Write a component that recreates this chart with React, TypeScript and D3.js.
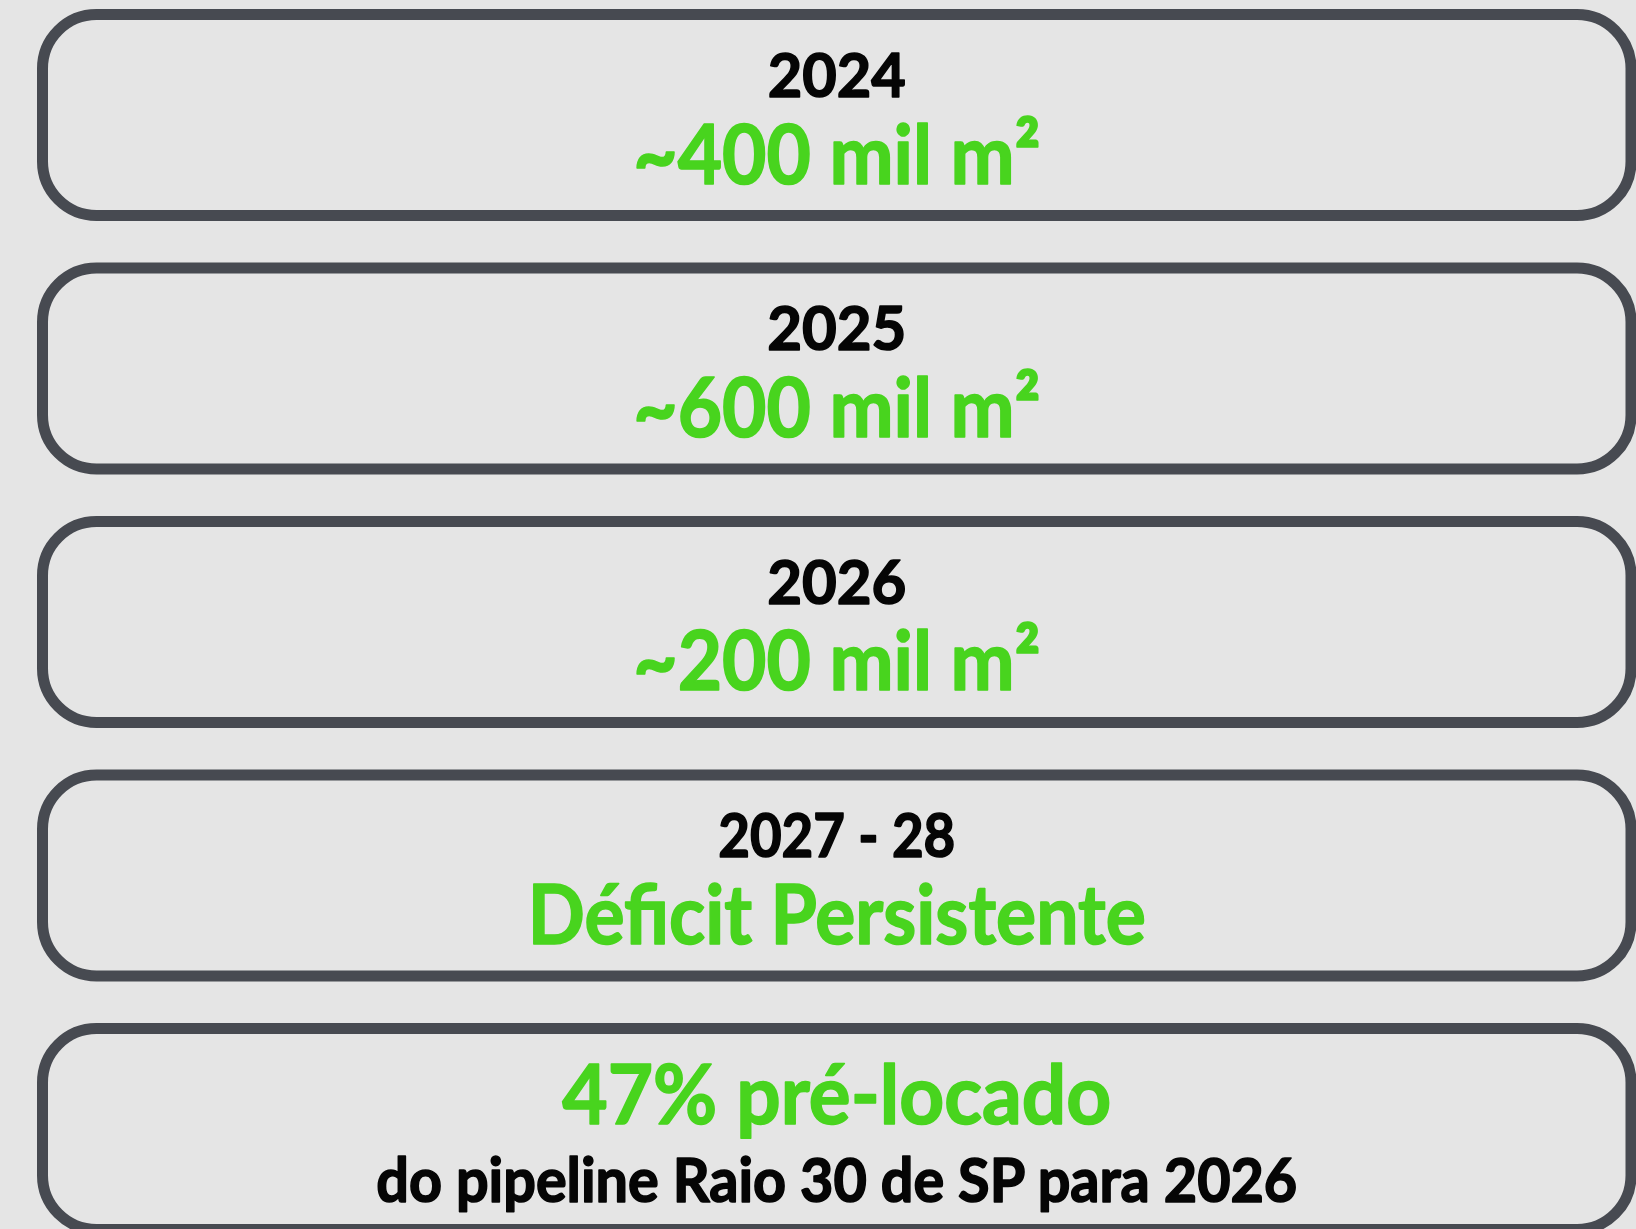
import React, { useEffect } from "react";
import { scaleBand, range } from "d3";

// chart content
const periods = ["2024", "2025", "2026", "2027 - 28"];
const headlines = ["~400 mil m²", "~600 mil m²", "~200 mil m²", "Déficit Persistente"];
const preLocadoPct = 47;
const preLocadoLabel = `${preLocadoPct}% pré-locado`;
const pipelineNote = "do pipeline Raio 30 de SP para 2026";

const periodWidths = [138, 139, 139, 237];
const headlineWidths = [407, 407, 407, 618];

const width = 1636;
const height = 1229;
const FONT = "Lato, 'Open Sans', sans-serif";
const GREEN = "#48d41e";
const INK = "#050505";
const STROKE = "#474a51";

const App = () => {
    useEffect(() => {
        document.body.style.margin = "0";
    }, []);

    const ids = range(periods.length + 1);
    // boxes stacked top to bottom, the last one runs off the page
    const yScale = scaleBand<number>()
        .domain(ids)
        .range([14.5, 1229.5])
        .paddingInner(0.2071);
    const boxX = 42.5;
    const boxW = 1631 - 42.5;
    const cx = boxX + boxW / 2;

    // calibri bold is heavier than lato bold, a thin outline makes up for it
    const label = (txt: string, y: number, size: number, fill: string, len: number) => (
        <text
            x={cx}
            y={y}
            textAnchor="middle"
            fontFamily={FONT}
            fontWeight={700}
            fontSize={size}
            fill={fill}
            stroke={fill}
            strokeWidth={1.6}
            strokeLinejoin="round"
            textLength={len}
            lengthAdjust="spacingAndGlyphs"
        >
            {txt}
        </text>
    );

    return (
        <svg width={width} height={height} style={{ display: "block" }}>
            <rect width={width} height={height} fill="#e5e5e5" />
            {ids.map((i) => {
                const y = yScale(i) as number;
                const last = i === periods.length;
                return (
                    <g key={i}>
                        <rect
                            x={boxX}
                            y={y}
                            width={boxW}
                            height={yScale.bandwidth()}
                            rx={54}
                            ry={54}
                            fill="none"
                            stroke={STROKE}
                            strokeWidth={11}
                        />
                        {!last && (
                            <>
                                {label(periods[i], y + 82.5, 62, INK, periodWidths[i])}
                                {label(headlines[i], y + 169, 82, GREEN, headlineWidths[i])}
                            </>
                        )}
                        {last && (
                            <>
                                {label(preLocadoLabel, y + 95.5, 82, GREEN, 549)}
                                {label(pipelineNote, y + 173.5, 61, INK, 921)}
                            </>
                        )}
                    </g>
                );
            })}
        </svg>
    );
};

export default App;
